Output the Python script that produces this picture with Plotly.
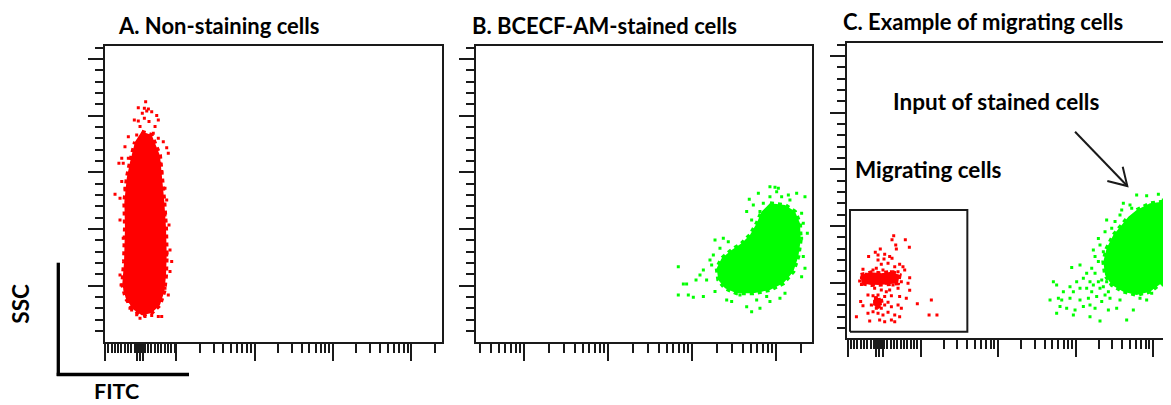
import numpy as np
import plotly.graph_objects as go

# page body has an 8px margin; figure is sized/offset so it lands on the 1171x405 frame
OFF = 8
W, H = 1171 - OFF, 405 - OFF

# ---------------- data (FITC intensity, SSC) ----------------
# Panel A: non-staining cells (dense core outline + scattered events)
A_core_x = [3.61, 4.85, 6.19, 6.62, 7.03, 7.39, 7.54, 7.39, 7.03, 6.19, 4.85, 3.61, 2.82, 2.26, 2.04, 2.15, 2.21, 2.17, 2.33, 2.56, 2.97]
A_core_y = [186, 183, 165, 145, 124, 101, 77, 59, 45, 33, 26, 24, 29, 39, 51, 71, 101, 124, 145, 159, 177]
A_pts_x = [4.06, 3.27, 3.91, 4.40, 4.19, 3.68, 4.85, 2.91, 3.27, 3.91, 4.48, 5.62, 5.89, 5.35, 3.44, 2.44, 3.12, 5.08, 5.89, 6.82,
           7.54, 7.90, 2.21, 2.01, 1.85, 2.10, 2.44, 6.19, 6.51, 1.65, 2.01, 1.91, 2.21, 7.17, 7.54, 7.17, 8.07, 1.91, 2.10, 8.31,
           7.54, 8.73, 8.31, 1.91, 1.97, 2.21, 7.17, 7.90, 2.44, 2.69, 3.12, 3.44, 3.98, 4.85, 5.89, 6.51, 2.56]
A_pts_y = [212.4, 207.1, 206.5, 206.0, 204.2, 202.1, 203.6, 196.3, 195.4, 197.7, 194.8, 200.1, 196.3, 190.4, 190.4, 181.5, 183.0, 184.5, 180.1, 177.1,
           171.8, 166.8, 172.7, 162.4, 158.0, 158.0, 162.4, 158.0, 150.7, 130.7, 141.9, 127.1, 136.0, 136.0, 125.7, 112.4, 103.6, 108.0, 91.9, 81.6,
           77.2, 71.3, 62.5, 59.5, 50.7, 46.3, 47.8, 41.9, 36.0, 28.6, 24.3, 21.3, 22.8, 23.7, 22.8, 22.8, 30.1]

# Panel B: BCECF-AM-stained cells
B_core_x = [8472, 12794, 16826, 19320, 19680, 18450, 16069, 12218, 8472, 5370, 3404, 2471, 2056, 1968, 2254, 2965, 3899, 4898, 5888, 6745]
B_core_y = [122.7, 121.2, 115.4, 105.1, 90.4, 75.7, 62.4, 52.1, 46.2, 43.3, 43.3, 47.7, 55.1, 65.4, 74.2, 81.5, 87.4, 94.8, 105.1, 115.4]
B_pts_x = [8472, 9727, 10666, 10186, 6166, 8472, 11668, 14028, 17620, 22131, 4808, 5370, 7063, 14655, 6442, 4477, 5129, 20184, 21135, 23605,
           20184, 18450, 21135, 22131, 20184, 1879, 2360, 2704, 2153, 1795, 2965, 1637, 1714, 687, 1365, 1245, 1117, 1493, 789, 863,
           687, 904, 1037, 1365, 1879, 2588, 2965, 4477, 5129, 6442, 8472, 11143, 12794, 3724, 3899, 5888, 7745]
B_pts_y = [137.4, 136.8, 135.9, 133.0, 131.5, 128.6, 128.6, 130.1, 131.5, 128.6, 126.2, 121.2, 122.7, 125.7, 115.4, 115.4, 108.0, 113.9, 105.1, 96.2,
           91.8, 81.5, 75.7, 65.4, 58.0, 90.4, 91.8, 88.9, 83.0, 77.1, 75.7, 72.7, 68.3, 66.8, 63.9, 59.5, 55.1, 55.1, 51.5, 51.5,
           41.8, 41.8, 39.8, 40.4, 44.8, 37.4, 36.0, 31.5, 27.1, 30.1, 36.0, 38.9, 43.3, 41.8, 46.2, 37.4, 40.4]

# Panel C: migration example - stained input (green)
C_green_core_x = [6152, 9141, 13583, 22284, 22284, 13583, 9141, 6152, 4141, 2931, 2404, 2286, 2523, 3076, 3945, 4808]
C_green_core_y = [114.1, 120.0, 121.5, 120.0, 55.0, 50.9, 42.1, 39.1, 42.1, 48.0, 56.8, 68.6, 80.3, 92.1, 100.9, 108.3]
C_green_x = [6152, 8279, 11722, 13583, 14997, 4141, 5047, 3945, 5309, 3750, 3236, 2523, 2931, 2404, 1972, 2070, 1698, 2286, 1786, 1972,
             1143, 893, 1618, 1393, 1786, 1262, 1035, 1538, 518, 571, 849, 697, 938, 1143, 2070, 469, 601, 664, 849, 1143,
             1466, 1875, 2404, 2786, 3750, 631, 769, 986, 1262, 1538, 1786, 2178, 571, 938, 1538, 2070, 2655, 3396, 4571, 5572,
             6792, 8279, 9616, 13583, 14997, 15776, 14997, 16558, 14997, 1698, 1972, 2286, 2523, 1618, 1393, 2178, 2655]
C_green_y = [127.4, 126.8, 128.0, 123.0, 125.0, 120.0, 118.6, 114.1, 115.6, 109.7, 103.9, 105.3, 98.0, 95.0, 89.1, 83.3, 78.8, 77.4, 73.0, 68.6,
             65.6, 63.3, 62.7, 58.3, 58.3, 53.9, 50.9, 50.9, 50.9, 48.0, 46.5, 42.1, 42.1, 45.0, 45.0, 34.7, 36.2, 34.7, 36.2, 34.7,
             36.2, 37.7, 39.1, 36.2, 34.7, 28.9, 27.4, 25.9, 28.9, 30.3, 27.4, 33.3, 23.0, 21.5, 20.0, 16.2, 25.9, 27.4, 17.1, 25.9,
             36.2, 34.7, 40.6, 48.0, 53.9, 65.6, 77.4, 92.1, 103.9, 48.0, 50.9, 46.5, 50.9, 42.1, 45.0, 52.4, 42.1]

# Panel C: migrating (unstained) cells (red)
C_red_core_x = [1.69, 2.32, 3.12, 4.21, 5.38, 5.13, 3.45, 2.32, 1.73, None, 2.51, 3.06, 3.19, 2.69, 2.44]
C_red_core_y = [56.8, 59.1, 58.3, 59.7, 56.8, 49.4, 48.5, 48.0, 49.4, None, 36.2, 36.8, 30.3, 28.0, 30.9]
C_red_x = [4.51, 4.29, 6.37, 4.79, 7.18, 4.88, 3.03, 2.61, 2.14, 2.83, 3.45, 3.38, 4.00, 4.29, 2.83, 5.38, 5.94, 3.12, 3.81, 4.65,
           1.81, 2.44, 2.69, 3.28, 6.25, 5.13, 4.21, 2.00, 1.73, 1.64, 1.73, 2.10, 2.32, 2.56, 2.97, 3.45, 3.81, 4.21, 4.65, 5.13,
           5.66, 7.25, 6.90, 1.91, 2.21, 2.44, 2.83, 3.12, 3.62, 4.42, 4.88, 5.13, 2.56, 3.12, 3.62, 4.00, 2.10, 2.44, 2.83, 3.45,
           4.21, 5.38, 6.56, 7.25, 1.69, 1.81, 2.32, 2.56, 2.69, 2.83, 2.97, 2.69, 3.12, 3.45, 3.81, 4.21, 5.13, 5.66, 2.10, 2.44,
           2.83, 3.28, 3.81, 4.65, 5.38, 1.49, 2.21, 2.97, 3.45, 4.21, 4.65, 9.10, 13.8, 12.9, 16.3]
C_red_y = [91.5, 88.0, 88.0, 83.3, 81.2, 79.7, 79.7, 76.8, 73.0, 74.4, 75.0, 70.9, 73.0, 71.5, 70.0, 66.2, 64.1, 66.2, 67.1, 64.1,
           61.8, 61.2, 62.7, 61.2, 61.2, 59.7, 59.7, 57.4, 54.4, 51.5, 48.5, 53.8, 56.8, 53.8, 56.8, 55.3, 53.8, 56.8, 53.8, 55.3,
           50.9, 54.4, 49.4, 50.9, 50.3, 48.5, 49.4, 50.9, 49.4, 48.0, 49.4, 45.0, 45.0, 43.6, 42.1, 43.6, 39.1, 38.5, 39.1, 37.7,
           38.5, 37.7, 36.2, 43.3, 33.3, 29.7, 30.3, 33.3, 30.3, 34.7, 31.8, 27.4, 27.4, 30.3, 32.7, 28.8, 30.3, 27.4, 23.0, 24.4,
           23.0, 21.5, 23.8, 21.5, 20.0, 20.0, 16.2, 17.1, 15.6, 17.1, 15.6, 31.5, 34.7, 21.5, 21.5]

# gate around migrating cells and arrow pointing at the input population
gate_x = [1.23, 40.2]
gate_y = [6.7, 114.1]
arrow_x = [986, 4659, 2572, 4659, 4064]
arrow_y = [183.2, 135.3, 139.7, 135.3, 152.3]

titles = ["A. Non-staining cells", "B. BCECF-AM-stained cells", "C. Example of migrating cells"]

RED = "#ff0000"
GREEN = "#00ff00"
INK = "#1a1a1a"
FONT = "Lato"

fig = go.Figure()


def add_cloud(core_x, core_y, px, py, color, xa, ya):
    fig.add_trace(go.Scatter(x=core_x, y=core_y, mode="lines", fill="toself", fillcolor=color,
                             line=dict(color=color, width=4, dash="dot"), xaxis=xa, yaxis=ya, hoverinfo="skip"))
    fig.add_trace(go.Scatter(x=px, y=py, mode="markers",
                             marker=dict(color=color, size=3, symbol="square", line=dict(width=0)),
                             xaxis=xa, yaxis=ya))


add_cloud(A_core_x, A_core_y, A_pts_x, A_pts_y, RED, "x", "y")
add_cloud(B_core_x, B_core_y, B_pts_x, B_pts_y, GREEN, "x2", "y2")
add_cloud(C_red_core_x, C_red_core_y, C_red_x, C_red_y, RED, "x3", "y3")
add_cloud(C_green_core_x, C_green_core_y, C_green_x, C_green_y, GREEN, "x3", "y3")

fig.add_trace(go.Scatter(x=[gate_x[0], gate_x[1], gate_x[1], gate_x[0], gate_x[0]],
                         y=[gate_y[0], gate_y[0], gate_y[1], gate_y[1], gate_y[0]],
                         mode="lines", line=dict(color=INK, width=2), xaxis="x3", yaxis="y3"))
fig.add_trace(go.Scatter(x=[arrow_x[0], arrow_x[1], None, arrow_x[2], arrow_x[3], arrow_x[4]],
                         y=[arrow_y[0], arrow_y[1], None, arrow_y[2], arrow_y[3], arrow_y[4]],
                         mode="lines", line=dict(color=INK, width=2), xaxis="x3", yaxis="y3"))


# ---------------- axes ----------------
def decade_minors(k_from, k_to):
    return [m * 10.0 ** k for k in range(k_from, k_to + 1) for m in range(2, 10)]


def dense_first_decade(l_start, step, skip):
    ls = np.arange(l_start, 0.985, step)
    return [10 ** l for l in ls if all(abs(l - s) > step * 0.4 for s in skip)]


A_long = [0.09, 0.494, 0.536, 0.579]
C_long = [0.058, 0.426, 0.468, 0.512]
A_major = [10 ** l for l in A_long] + [10, 100, 1000, 10000]
A_minor = dense_first_decade(0.13, 0.0425, A_long) + decade_minors(1, 3) + [20000]
B_major = [10, 100, 1000, 10000]
B_minor = [m * 1.0 for m in range(3, 10)] + decade_minors(1, 3) + [20000]
C_major = [10 ** l for l in C_long] + [10, 100, 1000, 10000]
C_minor = dense_first_decade(0.10, 0.043, C_long) + decade_minors(1, 3)

y_major = [50, 100, 150, 200, 250]
y_minor = [v for v in range(10, 261, 10) if v not in y_major]


def xaxis(domain, rng, major, minor, anchor):
    return dict(domain=domain, range=rng, type="log", anchor=anchor,
                showline=True, linecolor=INK, linewidth=2, mirror=True,
                showgrid=False, zeroline=False, showticklabels=False,
                ticks="outside", tickmode="array", tickvals=major, ticklen=17, tickwidth=2, tickcolor=INK,
                minor=dict(tickmode="array", tickvals=minor, ticks="outside", ticklen=9, tickwidth=1.6,
                           tickcolor=INK, showgrid=False))


def yaxis(domain, rng, anchor, mirror=True):
    return dict(domain=domain, range=rng, anchor=anchor,
                showline=True, linecolor=INK, linewidth=2, mirror=mirror,
                showgrid=False, zeroline=False, showticklabels=False,
                ticks="outside", tickmode="array", tickvals=y_major, ticklen=15, tickwidth=2, tickcolor=INK,
                minor=dict(tickmode="array", tickvals=y_minor, ticks="outside", ticklen=8, tickwidth=2,
                           tickcolor=INK, showgrid=False))


def px2x(p):
    return (p - OFF) / W


def px2y(p):
    return 1 - (p - OFF) / H


yd_ab = [px2y(341.7), px2y(45.7)]
yd_c = [px2y(338.3), px2y(43.3)]

fig.update_layout(
    width=W, height=H, margin=dict(l=0, r=0, t=0, b=0),
    paper_bgcolor="white", plot_bgcolor="white", showlegend=False,
    xaxis=xaxis([px2x(104.5), px2x(442)], [0.083, 4.393], A_major, A_minor, "y"),
    yaxis=yaxis(yd_ab, [0.59, 261.8], "x"),
    xaxis2=xaxis([px2x(476), px2x(812)], [0.4286, 4.4286], B_major, B_minor, "y2"),
    yaxis2=yaxis(yd_ab, [0.59, 261.8], "x2"),
    xaxis3=xaxis([px2x(847), 1.0], [0.0516, 4.232], C_major, C_minor, "y3"),
    yaxis3=yaxis(yd_c, [0.9, 261.3], "x3", mirror=False),
)


def label(text, x, y, size=22, angle=0, xanchor="left", pad=1):
    fig.add_annotation(text="<b>" + text + "</b>", x=px2x(x), y=px2y(y), xref="paper", yref="paper",
                       showarrow=False, xanchor=xanchor, yanchor="middle", textangle=angle, borderpad=pad,
                       font=dict(family=FONT, size=size, color="black"))


label(titles[0], 116, 26)
label(titles[1], 470, 26)
label(titles[2], 841, 21.5)
label("Input of stained cells", 891, 101.5, size=22.5)
label("Migrating cells", 853, 169.5, size=22.5)
label("SSC", 21, 303.7, size=22.5, angle=-90, xanchor="center", pad=0)
label("FITC", 116.7, 391, size=21.5, xanchor="center", pad=0)

# FITC / SSC corner bracket
fig.add_shape(type="line", xref="paper", yref="paper", x0=px2x(58.3), x1=px2x(58.3), y0=px2y(262.7), y1=px2y(376),
              line=dict(color="black", width=3.3))
fig.add_shape(type="line", xref="paper", yref="paper", x0=px2x(56.7), x1=px2x(189), y0=px2y(374.5), y1=px2y(374.5),
              line=dict(color="black", width=3.3))

fig.write_html("out.html")
